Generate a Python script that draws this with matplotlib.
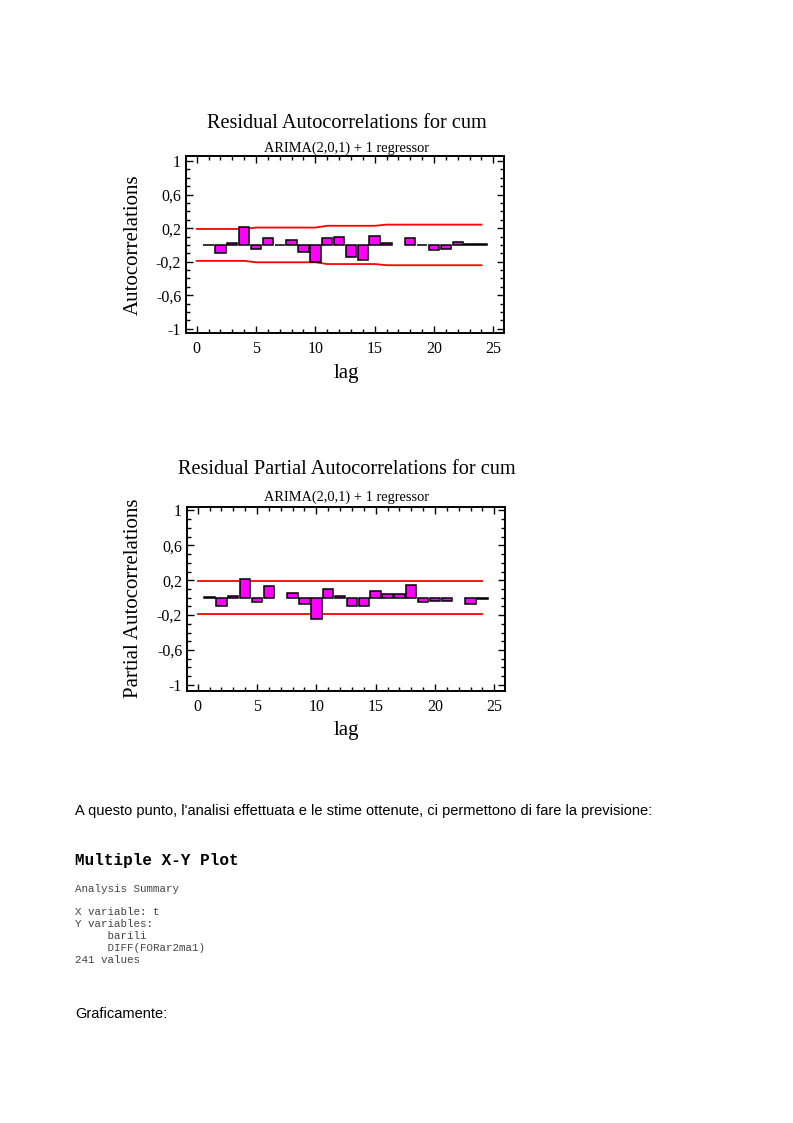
import matplotlib
matplotlib.use("Agg")
import matplotlib.pyplot as plt
from matplotlib.ticker import MultipleLocator, FuncFormatter
import numpy as np

# lags and estimated values
lags = np.arange(1, 25)
acf = [0.0, -0.10, 0.02, 0.21, -0.05, 0.08, 0.0, 0.06, -0.09, -0.20, 0.08, 0.10,
       -0.14, -0.18, 0.11, 0.02, np.nan, 0.08, 0.0, -0.06, -0.05, 0.03, 0.01, 0.01]
pacf = [0.01, -0.09, 0.025, 0.21, -0.045, 0.13, np.nan, 0.055, -0.075, -0.25, 0.10, 0.025,
        -0.09, -0.09, 0.08, 0.04, 0.04, 0.15, -0.05, -0.04, -0.04, np.nan, -0.07, -0.015]

# probability limits (upper); lower is the mirror
lim_lags = np.arange(0, 25)
acf_lim = [0.19, 0.19, 0.19, 0.19, 0.19, 0.207, 0.207, 0.207, 0.207, 0.207, 0.207,
           0.228, 0.228, 0.228, 0.228, 0.228, 0.242, 0.242, 0.242, 0.242, 0.242,
           0.242, 0.242, 0.242, 0.242]
pacf_lim = [0.19] * 25

y_major = [1, 0.6, 0.2, -0.2, -0.6, -1]

summary_lines = ["Analysis Summary", "", "X variable: t", "Y variables:",
                 "     barili", "     DIFF(FORar2ma1)", "241 values"]

W, H = 793, 1123
fig = plt.figure(figsize=(W / 100, H / 100), dpi=100)
fig.patch.set_facecolor("white")

serif = ["Liberation Serif", "DejaVu Serif"]


def fmt(v, pos):
    s = "%g" % round(v, 2)
    return s.replace(".", ",")


def px(x, y):
    return x / W, 1 - y / H


def acf_panel(rect, values, limits, ylim, title, title_y, sub_y, ylabel, ylabel_y, lag_y):
    ax = fig.add_axes(rect)
    vals = np.array(values, dtype=float)
    ok = ~np.isnan(vals)
    ax.bar(lags[ok], vals[ok], width=0.88, color="#ff00ff", edgecolor="black",
           linewidth=1.1, zorder=3)
    lim = np.array(limits)
    ax.plot(lim_lags, lim, color="red", lw=1.3, zorder=2)
    ax.plot(lim_lags, -lim, color="red", lw=1.3, zorder=2)
    ax.set_xlim(-0.9, 25.9)
    ax.set_ylim(*ylim)
    ax.set_yticks(y_major)
    ax.yaxis.set_minor_locator(MultipleLocator(0.1))
    ax.xaxis.set_major_locator(MultipleLocator(5))
    ax.xaxis.set_minor_locator(MultipleLocator(1))
    ax.yaxis.set_major_formatter(FuncFormatter(fmt))
    ax.tick_params(which="both", direction="in", top=True, right=True, width=1,
                   labelsize=11.5)
    ax.tick_params(axis="x", pad=6)
    ax.tick_params(axis="y", pad=3.5)
    ax.tick_params(which="major", length=5)
    ax.tick_params(which="minor", length=3)
    for lab in ax.get_xticklabels() + ax.get_yticklabels():
        lab.set_family(serif)
    for sp in ax.spines.values():
        sp.set_linewidth(1.4)
    x, y = px(347, title_y)
    fig.text(x, y, title, ha="center", va="center", fontsize=14.6, family=serif)
    x, y = px(347, sub_y)
    fig.text(x, y, "ARIMA(2,0,1) + 1 regressor", ha="center", va="center",
             fontsize=10.4, family=serif)
    x, y = px(133, ylabel_y)
    fig.text(x, y, ylabel, ha="center", va="center", rotation=90, fontsize=15,
             family=serif)
    x, y = px(346, lag_y)
    fig.text(x, y, "lag", ha="center", va="center", fontsize=15, family=serif)
    return ax


acf_panel([186 / W, 1 - 333 / H, 318 / W, 177 / H], acf, acf_lim, (-1.05, 1.06),
          "Residual Autocorrelations for cum", 123, 148, "Autocorrelations", 245, 373)
acf_panel([187 / W, 1 - 691 / H, 318 / W, 184 / H], pacf, pacf_lim, (-1.07, 1.04),
          "Residual Partial Autocorrelations for cum", 469, 497,
          "Partial Autocorrelations", 598, 731)

sans = ["Liberation Sans", "DejaVu Sans"]
mono = ["Liberation Mono", "DejaVu Sans Mono"]

x, y = px(75, 811)
fig.text(x, y, "A questo punto, l'analisi effettuata e le stime ottenute, ci permettono di fare la previsione:",
         ha="left", va="center", fontsize=10.5, family=sans)
x, y = px(75, 861)
fig.text(x, y, "Multiple X-Y Plot", ha="left", va="center", fontsize=11.5,
         family=mono, fontweight="bold")
for i, line in enumerate(summary_lines):
    if not line:
        continue
    yy = 889 if i == 0 else 912 + (i - 2) * 12
    x, y = px(75, yy)
    fig.text(x, y, line, ha="left", va="center", fontsize=7.8, family=mono,
             color="#444444")
x, y = px(75, 1014)
fig.text(x, y, "Graficamente:", ha="left", va="center", fontsize=10.5, family=sans)

fig.savefig("out.png", dpi=100)
